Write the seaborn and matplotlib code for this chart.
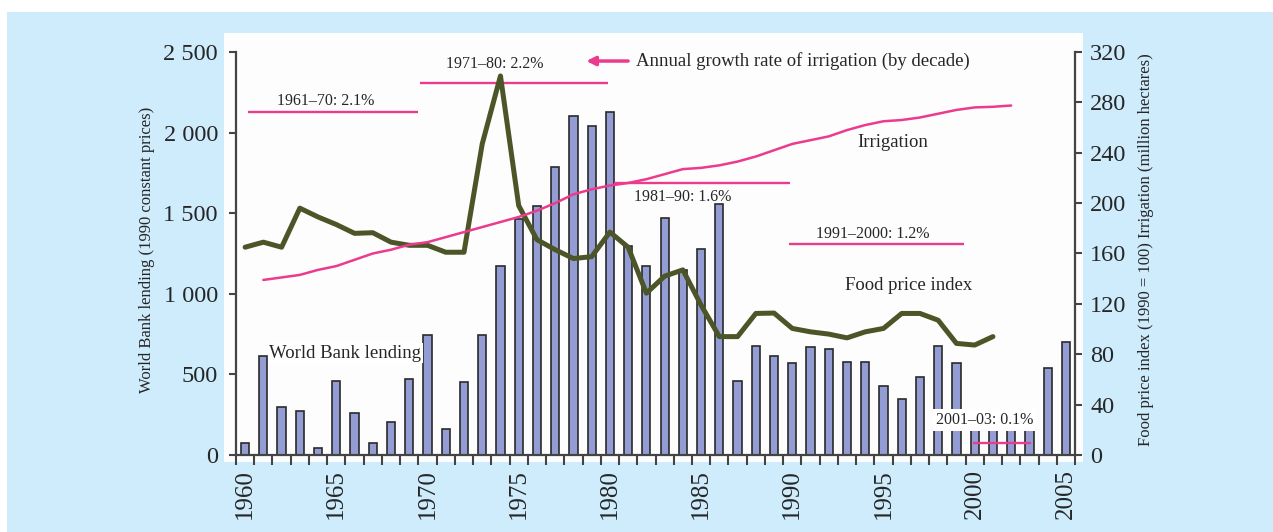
import matplotlib
matplotlib.use("Agg")
import matplotlib.pyplot as plt
import seaborn as sns
import pandas as pd
from matplotlib.patches import Rectangle

# World Bank lending to irrigation (1990 constant prices), one bar per year
years = list(range(1960, 2006))
lending = [77, 615, 296, 275, 42, 460, 262, 77, 206, 473,
           746, 162, 450, 746, 1175, 1465, 1545, 1785, 2105, 2040,
           2125, 1295, 1175, 1472, 1150, 1278, 1560, 458, 677, 615,
           569, 667, 656, 579, 579, 427, 350, 483, 677, 569,
           230, 200, 180, 210, 542, 702]

# Food price index (1990 = 100)
food_years = list(range(1960, 2002))
food_index = [165, 169, 165, 196, 189, 183, 176, 176.5, 169, 166.5,
              166.5, 161, 161, 247, 301, 198, 171, 163, 156, 157.5,
              177, 165, 128.5, 142, 147, 119, 94, 94, 112.4, 112.7,
              100.5, 97.8, 96, 93, 97.8, 100.5, 112.4, 112.4, 107, 88.6,
              87.3, 94]

# Irrigated area (million hectares)
irr_years = list(range(1961, 2003))
irrigation = [139, 141, 143, 147, 150, 155, 160, 163, 167, 169,
              173, 177, 181, 185, 189, 194, 200, 207, 211, 214,
              216, 219, 223, 227, 228, 230, 233, 237, 242, 247,
              250, 253, 258, 262, 265, 266, 268, 271, 274, 276,
              276.5, 277.5]

# Annual growth rate of irrigation by decade (segments drawn on the lending scale)
decade_labels = ['1961–70: 2.1%', '1971–80: 2.2%', '1981–90: 1.6%',
                 '1991–2000: 1.2%', '2001–03: 0.1%']
decade_start = [1960.15, 1969.6, 1980.25, 1989.8, 1999.9]
decade_end = [1969.5, 1979.9, 1989.85, 1999.4, 2003.1]
decade_level = [2128, 2310, 1689, 1307, 76]
decade_text_x = [1964.4, 1973.7, 1984.0, 1994.4, 2000.55]
decade_text_y = [2195, 2428, 1602, 1372, 217]

left_ticks = [0, 500, 1000, 1500, 2000, 2500]
left_ticklabels = ['0', '500', '1 000', '1 500', '2 000', '2 500']
right_ticks = [0, 40, 80, 120, 160, 200, 240, 280, 320]
x_ticks = list(range(1960, 2006, 5))

BAR = '#939dd3'
PINK = '#ec3b8f'
OLIVE = '#4b5527'
SPINE = '#444444'

sns.set_theme(style="white")
plt.rcParams['font.family'] = ['Liberation Serif', 'DejaVu Serif']

fig = plt.figure(figsize=(12.73, 5.32), dpi=100, facecolor='white')
# light blue panel and white plotting box behind the axes
fig.patches.append(Rectangle((7 / 1273, 0), 1, 520 / 532, transform=fig.transFigure,
                             facecolor='#cfecfc', edgecolor='none', zorder=-10))
fig.patches.append(Rectangle((224 / 1273, 70 / 532), 859 / 1273, 429 / 532,
                             transform=fig.transFigure, facecolor='#fdfdfd',
                             edgecolor='none', zorder=-9))

ax = fig.add_axes([236 / 1273, 77 / 532, 839 / 1273, 403 / 532])
ax.set_facecolor('none')

df = pd.DataFrame({'year': years, 'lending': lending})
sns.barplot(data=df, x='year', y='lending', native_scale=True, width=0.45,
            color=BAR, saturation=1, edgecolor='#2a2a2a', linewidth=1.2,
            errorbar=None, ax=ax)

ax.set_xlim(1959.5, 2005.5)
ax.set_ylim(0, 2500)
ax.set_xticks(x_ticks)
ax.set_xticklabels([str(y) for y in x_ticks], rotation=90, fontsize=18)
ax.set_xticks([y + 0.5 for y in range(1959, 2006)], minor=True)
ax.tick_params(axis='x', which='major', length=0, pad=10)
ax.tick_params(axis='x', which='minor', bottom=True, length=7, width=1.5, color=SPINE)
ax.set_yticks(left_ticks)
ax.set_yticklabels(left_ticklabels, fontsize=17.5)
ax.tick_params(axis='y', left=True, length=5, width=1.5, color=SPINE, pad=8)
ax.set_xlabel('')
ax.set_ylabel('World Bank lending (1990 constant prices)', fontsize=12)
ax.yaxis.set_label_coords(-0.097, 0.51)

# decade growth segments and labels
ax.hlines(decade_level, decade_start, decade_end, color=PINK, lw=1.7, zorder=3)
for lab, tx, ty in zip(decade_labels[:-1], decade_text_x[:-1], decade_text_y[:-1]):
    ax.text(tx, ty, lab, ha='center', va='center', fontsize=11.5, zorder=4)
ax.text(decade_text_x[-1], decade_text_y[-1], decade_labels[-1], ha='center',
        va='center', fontsize=11.5, zorder=4,
        bbox=dict(facecolor='white', edgecolor='none', pad=2))

ax.text(1965.5, 631, 'World Bank lending', ha='center', va='center', fontsize=13.5,
        zorder=4, bbox=dict(facecolor='white', edgecolor='none', pad=1))

# key for the growth segments
ax.annotate('', xy=(1978.55, 2444), xytext=(1981.15, 2444),
            arrowprops=dict(arrowstyle='-|>', color=PINK, lw=2.5, mutation_scale=13))
ax.text(1981.45, 2444, 'Annual growth rate of irrigation (by decade)', ha='left',
        va='center', fontsize=13.5)

ax2 = ax.twinx()
sns.lineplot(x=food_years, y=food_index, color=OLIVE, lw=3.6, ax=ax2)
sns.lineplot(x=irr_years, y=irrigation, color=PINK, lw=1.8, ax=ax2)
ax2.set_ylim(0, 320)
ax2.set_yticks(right_ticks)
ax2.set_yticklabels([str(t) for t in right_ticks], fontsize=17.5)
ax2.tick_params(axis='y', right=True, length=5, width=1.5, color=SPINE, pad=6)
ax2.set_ylabel('Food price index (1990 = 100) Irrigation (million hectares)', fontsize=12)
ax2.yaxis.set_label_coords(1.075, 0.51)

ax2.text(1995.5, 1937 * 320 / 2500, 'Irrigation', ha='center', va='center', fontsize=13.5)
ax2.text(1996.4, 1054 * 320 / 2500, 'Food price index', ha='center', va='center',
         fontsize=13.5)

for a in (ax, ax2):
    a.spines['top'].set_visible(False)
    for s in ('left', 'right', 'bottom'):
        a.spines[s].set_color(SPINE)
        a.spines[s].set_linewidth(1.6)
ax.spines['right'].set_visible(False)
ax2.spines['left'].set_visible(False)
ax2.spines['bottom'].set_visible(False)

fig.savefig('out.png', dpi=100, facecolor=fig.get_facecolor())
